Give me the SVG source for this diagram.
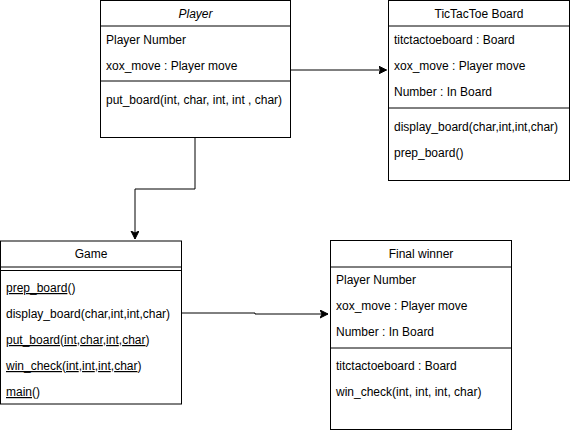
<svg xmlns="http://www.w3.org/2000/svg" width="571" height="431" viewBox="0 0 571 431">
<style>
.box{fill:#fff;stroke:#000;stroke-width:1}
.ln{stroke:#000;stroke-width:1;fill:none}
text{font-family:"Liberation Sans",Arial,sans-serif;font-size:12px;fill:#000}
.c{text-anchor:middle}
.u{text-decoration:underline}
</style>
<defs>
<marker id="arr" markerWidth="10" markerHeight="10" refX="8" refY="4" orient="auto" markerUnits="userSpaceOnUse">
<path d="M0,0 L8,4 L0,8 L2,4 Z" fill="#000" stroke="#000" stroke-width="1"/>
</marker>
</defs>
<g id="connectors">
<polyline class="ln" points="195,138 195,189 135,189 135,239" marker-end="url(#arr)"/>
<line class="ln" x1="290" y1="70" x2="386.5" y2="70" marker-end="url(#arr)"/>
<polyline class="ln" points="181,313 255,313 255,314 328,314" marker-end="url(#arr)"/>
</g>
<g id="player">
<rect class="box" x="100.5" y="0.5" width="190" height="137"/>
<line class="ln" x1="100.5" y1="26" x2="290.5" y2="26"/>
<line class="ln" x1="100.5" y1="81" x2="290.5" y2="81"/>
<text class="c" x="195.5" y="18" font-style="italic">Player</text>
<text x="106" y="44">Player Number</text>
<text x="106" y="70">xox_move : Player move</text>
<text x="106" y="104">put_board(int, char, int, int , char)</text>
</g>
<g id="tictactoe-board">
<rect class="box" x="388.5" y="0.5" width="181" height="180"/>
<line class="ln" x1="388.5" y1="26" x2="569.5" y2="26"/>
<line class="ln" x1="388.5" y1="108" x2="569.5" y2="108"/>
<text class="c" x="479" y="18">TicTacToe Board</text>
<text x="394" y="44">titctactoeboard : Board</text>
<text x="394" y="70">xox_move : Player move</text>
<text x="394" y="96">Number : In Board</text>
<text x="394" y="131">display_board(char,int,int,char)</text>
<text x="394" y="157">prep_board()</text>
</g>
<g id="game">
<rect class="box" x="0.5" y="241" width="181" height="163"/>
<line class="ln" x1="0.5" y1="267" x2="181.5" y2="267"/>
<line class="ln" x1="0.5" y1="270.5" x2="181.5" y2="270.5"/>
<text class="c" x="91" y="258">Game</text>
<text x="6" y="292"><tspan class="u">prep_board</tspan>()</text>
<text x="6" y="318">display_board(char,int,int,char)</text>
<text x="6" y="344"><tspan class="u">put_board</tspan>(<tspan class="u">int</tspan>,<tspan class="u">char</tspan>,<tspan class="u">int</tspan>,<tspan class="u">char</tspan>)</text>
<text x="6" y="370"><tspan class="u">win_check</tspan>(<tspan class="u">int</tspan>,<tspan class="u">int</tspan>,<tspan class="u">int</tspan>,<tspan class="u">char</tspan>)</text>
<text x="6" y="396"><tspan class="u">main</tspan>()</text>
</g>
<g id="final-winner">
<rect class="box" x="330.5" y="240.5" width="181" height="189"/>
<line class="ln" x1="330.5" y1="267" x2="511.5" y2="267"/>
<line class="ln" x1="330.5" y1="348" x2="511.5" y2="348"/>
<text class="c" x="421" y="258">Final winner</text>
<text x="336" y="284">Player Number</text>
<text x="336" y="310">xox_move : Player move</text>
<text x="336" y="336">Number : In Board</text>
<text x="336" y="370">titctactoeboard : Board</text>
<text x="336" y="396">win_check(int, int, int, char)</text>
</g>
</svg>
